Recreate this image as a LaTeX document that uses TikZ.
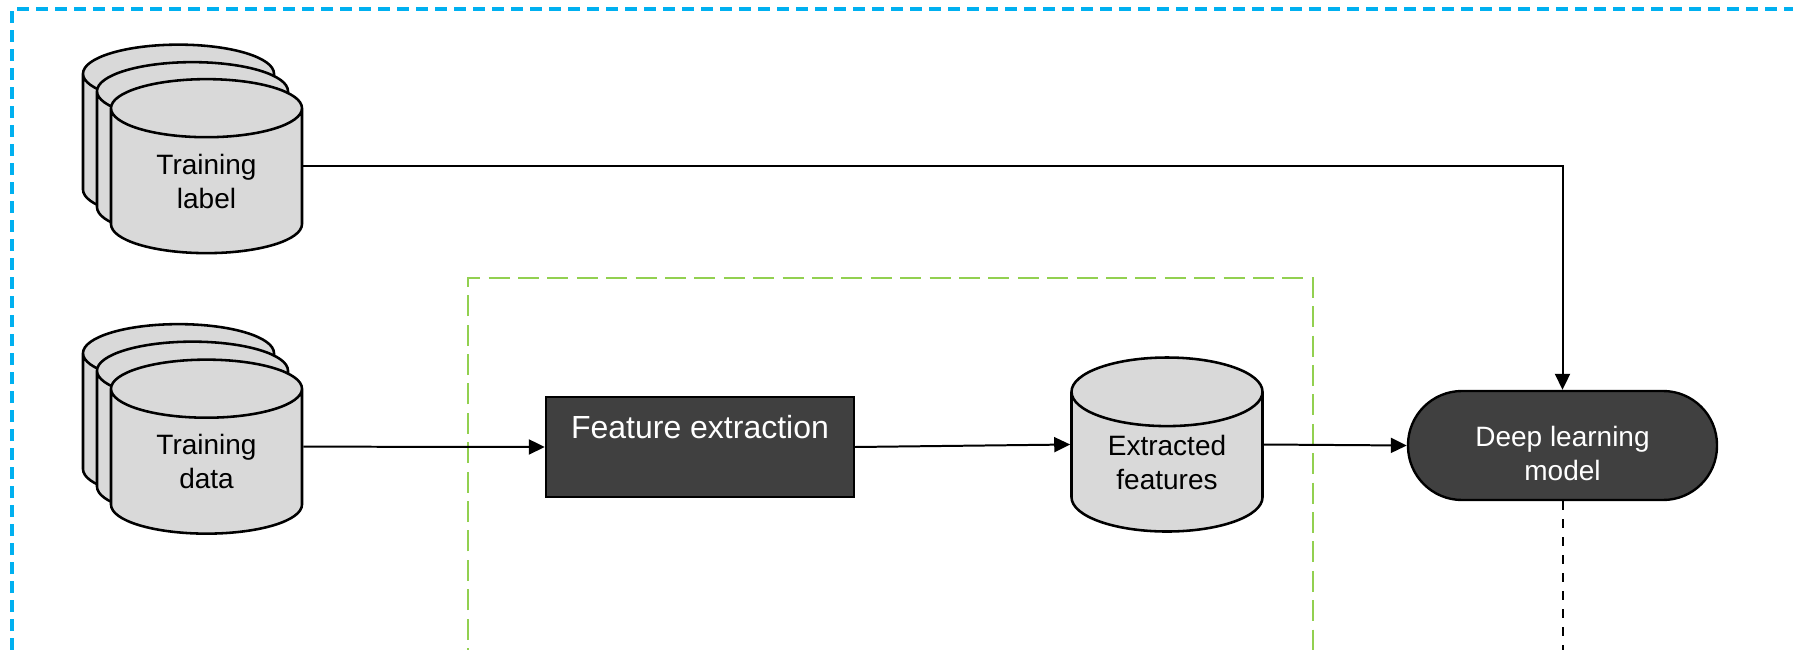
\documentclass[tikz,border=0pt]{standalone}
\usepackage{fontspec}
\setmainfont{Liberation Sans}
\usetikzlibrary{shapes.geometric,arrows.meta}
\definecolor{frameblue}{HTML}{00B0F0}
\definecolor{framegreen}{HTML}{92D050}
\definecolor{dbgray}{HTML}{D9D9D9}
\definecolor{boxdark}{HTML}{404040}
\tikzset{
	db/.style={cylinder, shape border rotate=90, aspect=0.58, draw, line width=0.45mm, fill=dbgray, minimum width=95.5pt, minimum height=87pt, inner sep=0pt, align=center, font=\fontsize{14}{17}\selectfont},
	fexbox/.style={rectangle, draw, line width=0.42mm, fill=boxdark, text=white, minimum width=154pt, text height=20.5pt, text depth=29.5pt, inner sep=0pt, font=\fontsize{16}{19}\selectfont},
	dlpill/.style={rectangle, rounded corners=27pt, draw, line width=0.42mm, fill=boxdark, text=white, minimum width=154.5pt, minimum height=54.5pt, text height=35pt, text depth=0pt, inner sep=0pt, align=center, font=\fontsize{14}{17}\selectfont},
	link/.style={line width=0.35mm, -{Triangle[length=8pt,width=7.5pt]}}
}
\begin{document}
\begin{tikzpicture}[x=50pt,y=50pt]
		%%%%% START %%%%%
		\useasboundingbox (0,0) rectangle (17.93,6.49);
		\clip (0,0) rectangle (17.93,6.49);
		
		\draw[line width=0.55mm, color=frameblue, dash pattern=on 6pt off 3.5pt] (0.12,-0.2) -- (0.12,6.40) -- (18.1,6.40);
		\draw[line width=0.35mm, color=framegreen, dash pattern=on 10.5pt off 4.2pt] (4.68,-0.2) -- (4.68,3.71) -- (13.13,3.71) -- (13.13,-0.2);
		
		\node[db] (lblback) at (1.785,5.022) {\phantom{Training}\\\phantom{label}};
		\node[db] (lblmid) at (1.925,4.847) {\phantom{Training}\\\phantom{label}};
		\node[db] (lbl) at (2.065,4.677) {Training\\label};
		
		\node[db] (datback) at (1.785,2.227) {\phantom{Training}\\\phantom{data}};
		\node[db] (datmid) at (1.925,2.052) {\phantom{Training}\\\phantom{data}};
		\node[db] (dat) at (2.065,1.872) {Training\\data};
		
		\node[fexbox] (fex) at (7.00,2.02) {Feature extraction};
		\node[db] (feats) at (11.67,1.867) {Extracted\\features};
		\node[dlpill] (dlm) at (15.625,2.035) {Deep learning\\model};
		\coordinate (dlout) at (15.625,-0.2);
		
		\draw[link] (lbl.shape center -| lbl.east) -| (dlm.north);
		\draw[link] (dat.shape center -| dat.east) -- (fex.west);
		\draw[link] (fex.east) -- (feats.shape center -| feats.west);
		\draw[link] (feats.shape center -| feats.east) -- (dlm.west);
		\draw[line width=0.35mm, dash pattern=on 4.5pt off 4.5pt] (dlm.south) -- (dlout);
		
		%%%%% END %%%%%
	\end{tikzpicture}
\end{document}
